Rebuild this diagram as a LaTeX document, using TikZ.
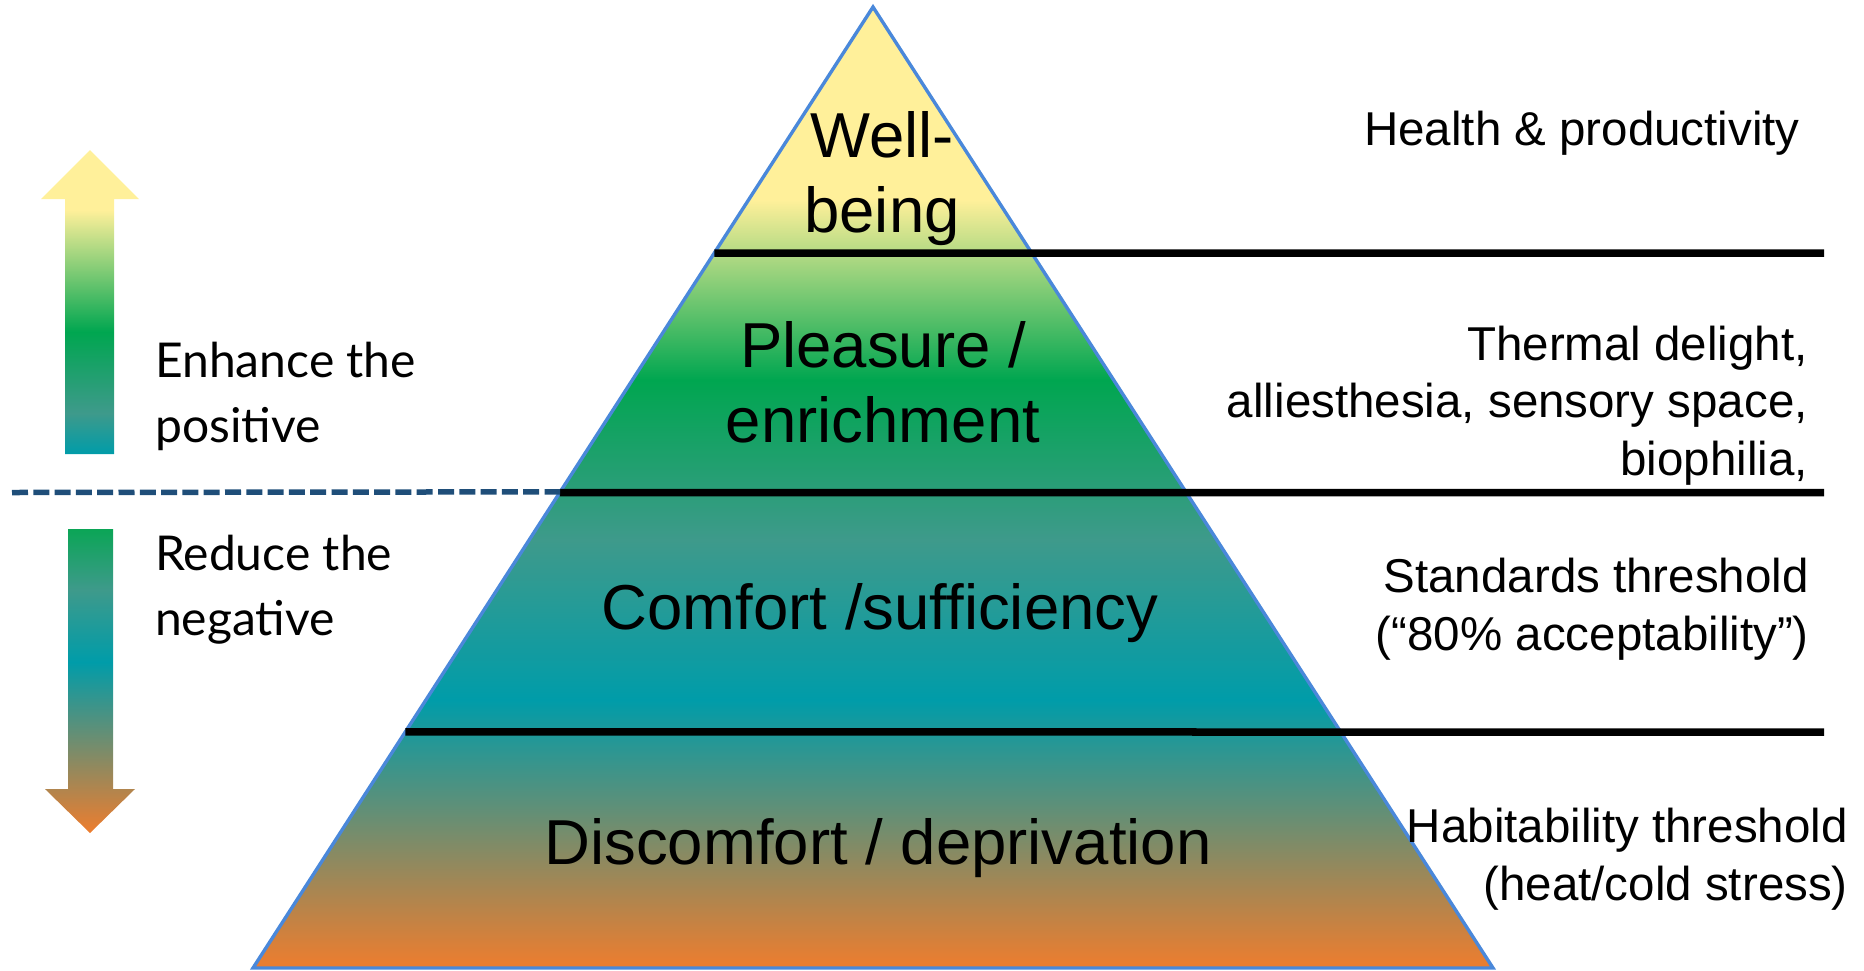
\documentclass[tikz,border=0pt]{standalone}
\usepackage{fontspec}
\setmainfont{Liberation Sans}
\newfontfamily\gillfont{Lato}
\usetikzlibrary{calc}

\definecolor{pyrblue}{HTML}{4A88DA}
\definecolor{dashblue}{HTML}{1F4E79}
\definecolor{cOrange}{HTML}{EE7D2E}
\definecolor{cTeal}{HTML}{009CA9}
\definecolor{cGrey}{HTML}{3E9A8B}
\definecolor{cGreen}{HTML}{00A650}
\definecolor{cGreenB}{HTML}{0BA556}
\definecolor{cYellow}{HTML}{FFF09A}

\pgfdeclareverticalshading{pyrshade}{100bp}{color(0bp)=(cOrange); color(25bp)=(cOrange); color(38.94bp)=(cTeal); color(47.27bp)=(cGrey); color(55.59bp)=(cGreen); color(64.96bp)=(cYellow); color(100bp)=(cYellow)}
\pgfdeclareverticalshading{upshade}{100bp}{color(0bp)=(cTeal); color(25bp)=(cTeal); color(31.74bp)=(cGrey); color(45.07bp)=(cGreen); color(65.13bp)=(cYellow); color(100bp)=(cYellow)}
\pgfdeclareverticalshading{downshade}{100bp}{color(0bp)=(cOrange); color(25bp)=(cOrange); color(53.13bp)=(cTeal); color(64.97bp)=(cGrey); color(75bp)=(cGreenB); color(100bp)=(cGreenB)}

\tikzset{
  pyrlabel/.style={inner sep=0pt, align=center, anchor=base, font=\fontsize{63.5}{75}\selectfont},
  sidetext/.style={inner sep=0pt, align=right, anchor=base east, font=\fontsize{47.5}{57.5}\selectfont},
  lefttext/.style={inner sep=0pt, align=left, anchor=base west, font=\gillfont\fontsize{48}{65}\selectfont},
  tierline/.style={black, line width=7.5pt},
  splitline/.style={dashblue, line width=5.5pt, dash pattern=on 16pt off 5.3pt}
}

\begin{document}
\begin{tikzpicture}[x=1pt,y=-1pt]
\useasboundingbox (0,0) rectangle (1864,970);

% pyramid
\coordinate (apex) at (873,7);
\coordinate (bl) at (253,968);
\coordinate (br) at (1493,968);
\path[shading=pyrshade] (apex) -- (br) -- (bl) -- cycle;
\draw[pyrblue, line width=3.4pt, line join=miter] (apex) -- (br) -- (bl) -- cycle;

% tier lines
\coordinate (l1a) at ($(apex)!0.2560!(bl)$);
\coordinate (l1b) at (1824,253);
\coordinate (l2a) at ($(apex)!0.5052!(bl)$);
\coordinate (l2b) at (1824,492.5);
\coordinate (l3a) at ($(apex)!0.7544!(bl)$);
\coordinate (l3b) at (1824,732);
\draw[tierline] (l1a) -- (l1b);
\draw[tierline] (l2a) -- (l2b);
\draw[tierline] (l3a) -- (l3b);

% dashed split line
\coordinate (dl) at (12,492.5);
\coordinate (dr) at ($(apex)!0.5045!(bl)$);
\draw[splitline] (dl) -- (dr);

% arrows
\path[shading=upshade] (65,454) -- (65,199) -- (41,199) -- (90,150) -- (139,199) -- (114,199) -- (114,454) -- cycle;
\path[shading=downshade] (68,529) -- (113,529) -- (113,789) -- (135,789) -- (90,833) -- (45,789) -- (68,789) -- cycle;

% pyramid labels (base anchor = last line baseline)
\node[pyrlabel] (well) at (882,232) {Well-\\being};
\node[pyrlabel] (pleasure) at (883,442) {Pleasure /\\enrichment};
\node[pyrlabel] (comfort) at (880,629) {Comfort /sufficiency};
\node[pyrlabel] (discomfort) at (878,864) {Discomfort / deprivation};

% left labels
\node[lefttext] (enhance) at (155,442) {Enhance the\\positive};
\node[lefttext] (reduce) at (155,635) {Reduce the\\negative};

% right labels
\node[sidetext] (health) at (1800,145) {Health \& productivity};
\node[sidetext] (thermal) at (1808,475) {Thermal delight,\\alliesthesia, sensory space,\\biophilia,};
\node[sidetext] (standards) at (1809,650) {Standards threshold\\(“80\% acceptability”)};
\node[sidetext] (habit) at (1848,900) {Habitability threshold\\(heat/cold stress)};
\end{tikzpicture}
\end{document}
